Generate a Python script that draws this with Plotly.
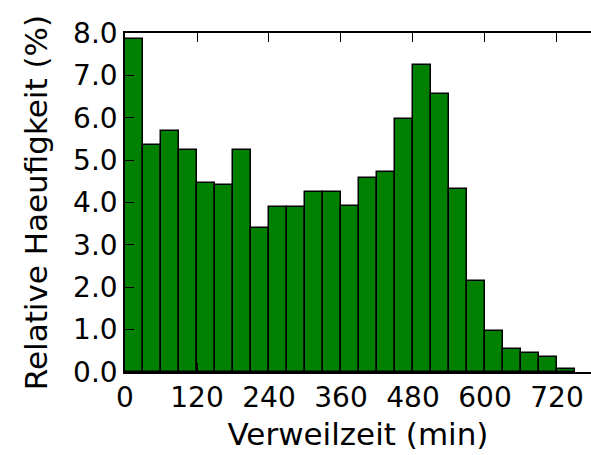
import plotly.graph_objects as go

# Histogram data: bin left edges (min) and relative frequency (%)
bin_left = [0, 30, 60, 90, 120, 150, 180, 210, 240, 270, 300, 330, 360,
            390, 420, 450, 480, 510, 540, 570, 600, 630, 660, 690, 720]
rel_freq = [7.85, 5.35, 5.68, 5.24, 4.46, 4.42, 5.24, 3.40, 3.90, 3.90,
            4.24, 4.24, 3.92, 4.59, 4.72, 5.97, 7.24, 6.56, 4.32, 2.15,
            0.97, 0.54, 0.46, 0.35, 0.06]
bin_width = 30
x_ticks = [0, 120, 240, 360, 480, 600, 720]
y_ticks = [0, 1, 2, 3, 4, 5, 6, 7, 8]

FONT = "DejaVu Sans"
TICK_SIZE = 28
TITLE_SIZE = 31

fig = go.Figure(go.Bar(
    x=bin_left, y=rel_freq, width=[bin_width] * len(bin_left), offset=0,
    marker=dict(color="#008000", line=dict(color="black", width=1.5)),
))

fig.update_layout(
    width=591, height=455,
    margin=dict(l=125, r=0, t=33, b=83),
    plot_bgcolor="white", paper_bgcolor="white",
    showlegend=False, bargap=0,
    font=dict(family=FONT, size=TICK_SIZE, color="black"),
)
fig.update_xaxes(
    range=[0, 776.7], tickvals=x_ticks, ticktext=[str(v) for v in x_ticks],
    ticks="inside", ticklen=9, tickwidth=1, tickcolor="black",
    showline=True, linecolor="black", linewidth=1.5, mirror="ticks",
    showgrid=False, zeroline=False,
    title=dict(text="Verweilzeit (min)", font=dict(family=FONT, size=TITLE_SIZE), standoff=10),
    tickfont=dict(family=FONT, size=TICK_SIZE),
)
fig.update_yaxes(
    range=[0, 8], tickvals=y_ticks, ticktext=[f"{v:.1f}" for v in y_ticks],
    ticks="inside", ticklen=9, tickwidth=1, tickcolor="black",
    showline=True, linecolor="black", linewidth=1.5, mirror=False,
    showgrid=False, zeroline=False,
    title=dict(text="Relative Haeufigkeit (%)", font=dict(family=FONT, size=TITLE_SIZE), standoff=16),
    tickfont=dict(family=FONT, size=TICK_SIZE),
)

fig.write_html("out.html")
